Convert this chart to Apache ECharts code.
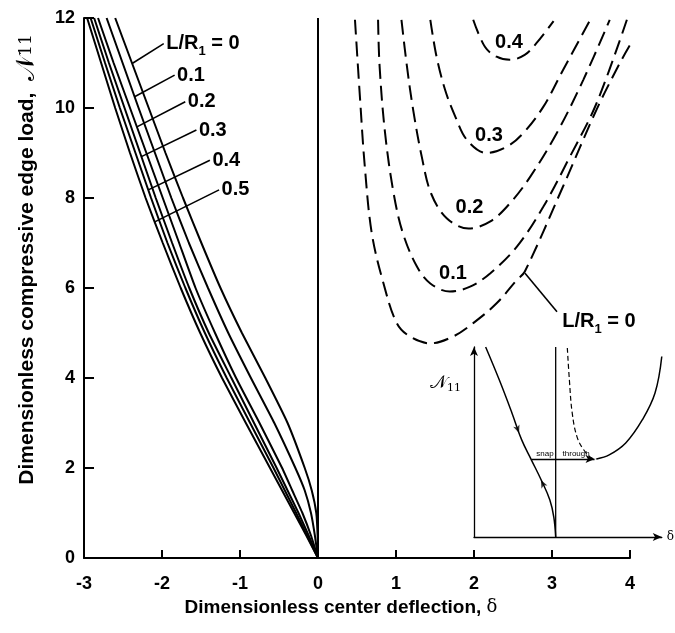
<!DOCTYPE html>
<html>
<head>
<meta charset="utf-8">
<script src="https://cdn.jsdelivr.net/npm/echarts@6/dist/echarts.min.js"></script>
<style>
  html, body { margin: 0; padding: 0; background: #fff; }
  #chart { width: 675px; height: 633px; }
</style>
</head>
<body>
<div id="chart"></div>
<script>
// Load levels N11 at which the stable branches are tabulated
const loadLevels = [0, 0.5, 1, 1.5, 2, 3, 4, 5, 6, 7, 8, 9, 10, 11, 12];

// Center deflection on the stable (solid) branches, one array per L/R1
const solidLR0  = [0, -0.005, -0.022, -0.08, -0.17, -0.39, -0.675, -0.975, -1.25, -1.495, -1.73, -1.955, -2.17, -2.385, -2.60];
const solidLR01 = [0, -0.04, -0.09, -0.17, -0.29, -0.56, -0.86, -1.15, -1.41, -1.655, -1.88, -2.09, -2.30, -2.505, -2.71];
const solidLR02 = [0, -0.09, -0.20, -0.33, -0.46, -0.75, -1.05, -1.32, -1.57, -1.78, -1.99, -2.20, -2.41, -2.62, -2.82];
const solidLR03 = [0, -0.12, -0.25, -0.39, -0.53, -0.82, -1.11, -1.40, -1.65, -1.87, -2.08, -2.28, -2.48, -2.68, -2.87];
const solidLR04 = [0, -0.14, -0.28, -0.425, -0.57, -0.87, -1.17, -1.45, -1.70, -1.93, -2.14, -2.34, -2.54, -2.73, -2.915];
const solidLR05 = [0, -0.15, -0.305, -0.46, -0.615, -0.925, -1.23, -1.51, -1.76, -1.99, -2.21, -2.41, -2.60, -2.78, -2.96];
const solidRatios = ['0', '0.1', '0.2', '0.3', '0.4', '0.5'];

// Snap-through (dashed) branches as [deflection, load]
const dashedLR0  = [[0.474, 11.96], [0.54, 10.18], [0.60, 8.70], [0.69, 7.21], [0.84, 6.10], [1.01, 5.22], [1.18, 4.92], [1.44, 4.77], [1.73, 4.92], [1.99, 5.22], [2.29, 5.66], [2.55, 6.18], [2.65, 6.36], [3.14, 8.25], [3.57, 9.96], [3.87, 11.0], [4.0, 11.4]];
const dashedLR01 = [[0.77, 11.96], [0.79, 10.92], [0.86, 9.44], [0.97, 8.10], [1.09, 7.21], [1.27, 6.47], [1.44, 6.10], [1.69, 5.92], [1.95, 6.03], [2.21, 6.33], [2.55, 6.92], [2.89, 7.81], [3.23, 8.92], [3.57, 10.1], [3.96, 11.96]];
const dashedLR02 = [[1.07, 11.96], [1.14, 10.93], [1.22, 9.96], [1.33, 8.92], [1.45, 8.10], [1.65, 7.55], [1.93, 7.32], [2.21, 7.48], [2.46, 7.88], [2.72, 8.47], [3.06, 9.44], [3.40, 10.62], [3.74, 11.96]];
const dashedLR03 = [[1.44, 11.96], [1.52, 11.14], [1.63, 10.4], [1.76, 9.81], [1.91, 9.29], [2.16, 9.0], [2.42, 9.14], [2.63, 9.44], [2.89, 10.03], [3.14, 10.84], [3.49, 11.96]];
const dashedLR04 = [[1.99, 11.96], [2.14, 11.36], [2.29, 11.14], [2.46, 11.07], [2.65, 11.18], [2.80, 11.44], [3.02, 11.93]];
const dashedRatios = ['0', '0.1', '0.2', '0.3', '0.4'];

// Inset sketch, in normalised units (0..1 on both axes)
const insetLoading  = [[0.062, 1.0], [0.135, 0.826], [0.202, 0.653], [0.254, 0.511], [0.306, 0.405], [0.358, 0.30], [0.404, 0.195], [0.425, 0.105], [0.435, 0]];
const insetUnstable = [[0.497, 0.995], [0.508, 0.826], [0.523, 0.653], [0.549, 0.526], [0.585, 0.458], [0.627, 0.416], [0.653, 0.411]];
const insetPost     = [[0.653, 0.411], [0.720, 0.432], [0.808, 0.495], [0.896, 0.616], [0.964, 0.758], [1.0, 0.95]];
const insetSnap     = [[0.306, 0.411], [0.642, 0.411]];
const insetPathArrows = [[0.240, 0.547, 200], [0.356, 0.30, 27]];
const insetDatum = 0.435;

const FONT = "'Liberation Sans', Arial, Helvetica, sans-serif";
const SERIF = "'DejaVu Serif', 'Liberation Serif', serif";
const BLACK = '#000';

function deflectionAt(xs, load) {
  for (let k = 1; k < loadLevels.length; k++) {
    if (load <= loadLevels[k]) {
      const t = (load - loadLevels[k - 1]) / (loadLevels[k] - loadLevels[k - 1]);
      return xs[k - 1] + t * (xs[k] - xs[k - 1]);
    }
  }
  return xs[xs.length - 1];
}

const curveLabelRich = {
  a: { fontFamily: FONT, fontWeight: 'bold', fontSize: 20, color: BLACK, lineHeight: 22 },
  s: { fontFamily: FONT, fontWeight: 'bold', fontSize: 13, color: BLACK, lineHeight: 29, verticalAlign: 'bottom' }
};
function ratioText(r, first) {
  return first ? '{a|L/R}{s|1}{a| = ' + r + '}' : '{a|' + r + '}';
}

// leader placement for the stable-branch labels: [load on curve, d-deflection, d-load]
const solidLeaders = [[10.99, 0.405, 0.44], [10.25, 0.513, 0.48], [9.58, 0.62, 0.56], [8.92, 0.705, 0.59], [8.18, 0.79, 0.66], [7.47, 0.825, 0.71]];
// label centres of the dashed branches
const dashedLabelAt = [null, [1.731, 6.33], [1.942, 7.78], [2.192, 9.40], [2.449, 11.46]];

const solidSets = [solidLR0, solidLR01, solidLR02, solidLR03, solidLR04, solidLR05];
const dashedSets = [dashedLR0, dashedLR01, dashedLR02, dashedLR03, dashedLR04];

const series = [];

solidSets.forEach((xs, i) => {
  const [ld, dx, dy] = solidLeaders[i];
  const x0 = deflectionAt(xs, ld);
  const end = [x0 + dx, ld + dy];
  series.push({
    type: 'line', name: 'L/R1 = ' + solidRatios[i], xAxisIndex: 0, yAxisIndex: 0,
    data: xs.map((x, k) => [x, loadLevels[k]]),
    showSymbol: false, symbol: 'none', smooth: 0.15,
    lineStyle: { color: BLACK, width: 2 }, z: 3,
    markLine: {
      silent: true, symbol: ['none', 'none'], label: { show: false },
      lineStyle: { color: BLACK, width: 1.6, type: 'solid' },
      data: [[{ coord: [x0, ld] }, { coord: end }]]
    },
    markPoint: {
      silent: true, symbol: 'circle', symbolSize: 1, itemStyle: { color: 'rgba(0,0,0,0)' },
      data: [{ coord: end, label: { show: true, position: 'right', distance: 2, formatter: ratioText(solidRatios[i], i === 0), rich: curveLabelRich } }]
    }
  });
});

dashedSets.forEach((pts, i) => {
  const s = {
    type: 'line', name: 'L/R1 = ' + dashedRatios[i], xAxisIndex: 0, yAxisIndex: 0,
    data: pts, showSymbol: false, symbol: 'none', smooth: 0.35,
    lineStyle: { color: BLACK, width: 2, type: [15, 7] }, z: 3
  };
  if (i === 0) {
    s.markLine = {
      silent: true, symbol: ['none', 'none'], label: { show: false },
      lineStyle: { color: BLACK, width: 1.6, type: 'solid' },
      data: [[{ coord: [2.654, 6.33] }, { coord: [3.064, 5.47] }]]
    };
    s.markPoint = {
      silent: true, symbol: 'circle', symbolSize: 1, itemStyle: { color: 'rgba(0,0,0,0)' },
      data: [{ coord: [3.10, 5.25], label: { show: true, position: 'right', distance: 2, formatter: ratioText('0', true), rich: curveLabelRich } }]
    };
  } else {
    s.markPoint = {
      silent: true, symbol: 'circle', symbolSize: 1, itemStyle: { color: 'rgba(0,0,0,0)' },
      data: [{ coord: dashedLabelAt[i], label: { show: true, position: 'inside', formatter: ratioText(dashedRatios[i], false), rich: curveLabelRich } }]
    };
  }
  series.push(s);
});

// vertical reference line at zero deflection
series.push({
  type: 'line', xAxisIndex: 0, yAxisIndex: 0, data: [[0, 0], [0, 12]],
  showSymbol: false, symbol: 'none', lineStyle: { color: BLACK, width: 2 }, z: 2
});

// inset sketch
series.push({
  type: 'line', xAxisIndex: 1, yAxisIndex: 1, data: [[insetDatum, 0], [insetDatum, 1]],
  showSymbol: false, symbol: 'none', lineStyle: { color: BLACK, width: 1.3 }, z: 4
});
series.push({
  type: 'line', xAxisIndex: 1, yAxisIndex: 1, data: insetLoading,
  showSymbol: false, symbol: 'none', smooth: 0.4, lineStyle: { color: BLACK, width: 1.5 }, z: 4
});
series.push({
  type: 'line', xAxisIndex: 1, yAxisIndex: 1, data: insetUnstable,
  showSymbol: false, symbol: 'none', smooth: 0.4, lineStyle: { color: BLACK, width: 1.2, type: [5, 3] }, z: 4
});
series.push({
  type: 'line', xAxisIndex: 1, yAxisIndex: 1, data: insetPost,
  showSymbol: false, symbol: 'none', smooth: 0.4, lineStyle: { color: BLACK, width: 1.5 }, z: 4,
  markLine: {
    silent: true, symbol: ['none', 'arrow'], symbolSize: [6, 9],
    lineStyle: { color: BLACK, width: 1.3, type: 'solid' },
    label: { show: true, position: 'middle', formatter: 'snap    through', fontFamily: FONT, fontSize: 8, color: BLACK, distance: 1 },
    data: [[{ coord: insetSnap[0] }, { coord: insetSnap[1] }]]
  }
});
series.push({
  type: 'scatter', xAxisIndex: 1, yAxisIndex: 1, symbol: 'arrow', symbolSize: [5, 8],
  itemStyle: { color: BLACK }, z: 5,
  data: insetPathArrows.map(p => ({ value: [p[0], p[1]], symbolRotate: p[2] }))
});

const tickLabel = { color: BLACK, fontFamily: FONT, fontWeight: 'bold', fontSize: 18 };

const option = {
  animation: false,
  backgroundColor: '#fff',
  grid: [
    { left: 84, right: 45, top: 18, bottom: 75 },
    { left: 474, top: 347, width: 193, height: 190 }
  ],
  xAxis: [
    {
      gridIndex: 0, type: 'value', min: -3, max: 4, interval: 1,
      axisLine: { onZero: false, lineStyle: { color: BLACK, width: 2 } },
      axisTick: { inside: true, length: 8, lineStyle: { color: BLACK, width: 2 } },
      axisLabel: Object.assign({ margin: 17 }, tickLabel),
      splitLine: { show: false },
      name: '{t|Dimensionless center deflection, }{d|δ}',
      nameLocation: 'middle', nameGap: 36,
      nameTextStyle: {
        padding: [0, 32, 0, 0],
        rich: {
          t: { fontFamily: FONT, fontWeight: 'bold', fontSize: 19, color: BLACK },
          d: { fontFamily: SERIF, fontSize: 18, color: BLACK }
        }
      }
    },
    {
      gridIndex: 1, type: 'value', min: 0, max: 1,
      axisLine: { onZero: false, symbol: ['none', 'arrow'], symbolSize: [6, 9], lineStyle: { color: BLACK, width: 1.3 } },
      axisTick: { show: false }, axisLabel: { show: false }, splitLine: { show: false },
      name: 'δ', nameLocation: 'end', nameGap: 5,
      nameTextStyle: { fontFamily: SERIF, fontSize: 12, color: BLACK }
    }
  ],
  yAxis: [
    {
      gridIndex: 0, type: 'value', min: 0, max: 12, interval: 2,
      axisLine: { onZero: false, lineStyle: { color: BLACK, width: 2 } },
      axisTick: { inside: true, length: 10, lineStyle: { color: BLACK, width: 2 } },
      axisLabel: Object.assign({ margin: 9 }, tickLabel),
      splitLine: { show: false },
      name: '{t|Dimensionless compressive edge load,  }{n|𝒩}{s|11}',
      nameLocation: 'middle', nameGap: 44, nameRotate: 90,
      nameTextStyle: {
        padding: [0, 0, 0, 57],
        rich: {
          t: { fontFamily: FONT, fontWeight: 'bold', fontSize: 21, color: BLACK, lineHeight: 26 },
          n: { fontFamily: SERIF, fontSize: 26, color: BLACK, lineHeight: 26 },
          s: { fontFamily: SERIF, fontSize: 17, color: BLACK, lineHeight: 26 }
        }
      }
    },
    {
      gridIndex: 1, type: 'value', min: 0, max: 1,
      axisLine: { onZero: false, symbol: ['none', 'arrow'], symbolSize: [6, 9], lineStyle: { color: BLACK, width: 1.3 } },
      axisTick: { show: false }, axisLabel: { show: false }, splitLine: { show: false }
    }
  ],
  graphic: [{
    type: 'text', left: 430, top: 374, silent: true,
    style: {
      text: '{n|𝒩}{s|11}',
      rich: {
        n: { fontFamily: SERIF, fontSize: 18, fill: BLACK },
        s: { fontFamily: SERIF, fontSize: 11, fill: BLACK, verticalAlign: 'bottom', lineHeight: 22 }
      }
    }
  }],
  series: series
};

const chart = echarts.init(document.getElementById('chart'), null, { renderer: 'canvas' });
chart.setOption(option);
</script>
</body>
</html>
